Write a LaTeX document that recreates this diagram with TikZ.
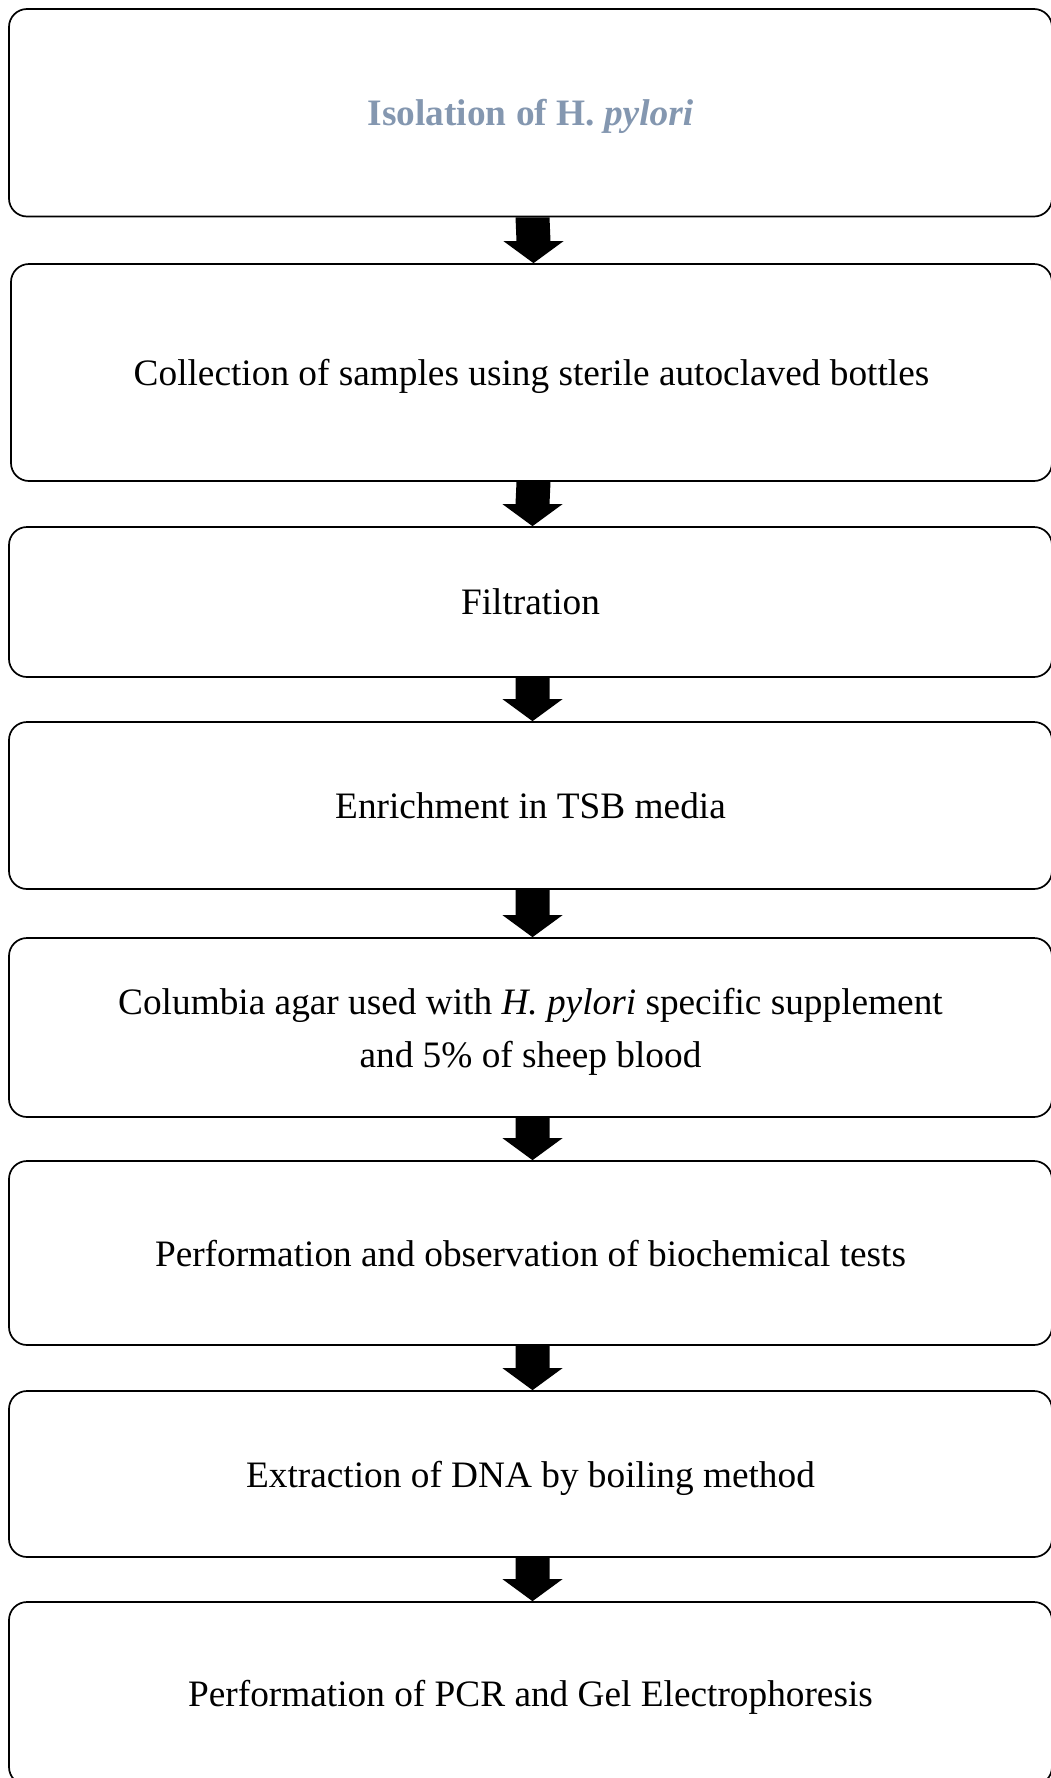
\documentclass[tikz,border=0pt]{standalone}
\usepackage{fontspec}
\setmainfont{Liberation Serif}
\usetikzlibrary{calc}
\definecolor{titleblue}{HTML}{8497B0}
\tikzset{
  stepbox/.style={draw=black, line width=1.7pt, rounded corners=18pt, minimum width=1043pt,
    inner sep=0pt, align=center, text depth=0pt, font=\fontsize{37.3}{53}\selectfont},
}
\newcommand\flowarrow[2]{%
  \fill[black] ($(#1.south)+(-15,0)$) -- ($(#2.north)+(-15,-22)$) -- ($(#2.north)+(-28,-22)$)
    -- ($(#2.north)+(2,0)$) -- ($(#2.north)+(32,-22)$) -- ($(#2.north)+(19,-22)$)
    -- ($(#1.south)+(19,0)$) -- cycle;}
\begin{document}
\begin{tikzpicture}[x=1pt,y=-1pt]
\useasboundingbox (0,0) rectangle (1051,1778);
\clip (0,0) rectangle (1051,1778);
\node[stepbox, minimum height=207.5pt] (b1) at (530.5,112.75)
  {\textcolor{titleblue}{\bfseries Isolation of H. \textit{pylori}}};
\node[stepbox, minimum height=217pt, minimum width=1041pt] (b2) at (531.5,372.5)
  {Collection of samples using sterile autoclaved bottles};
\node[stepbox, minimum height=150pt] (b3) at (530.5,602) {Filtration};
\node[stepbox, minimum height=167pt] (b4) at (530.5,805.5) {Enrichment in TSB media};
\node[stepbox, minimum height=179pt] (b5) at (530.5,1027.5)
  {Columbia agar used with \textit{H. pylori} specific supplement\\ and 5\% of sheep blood};
\node[stepbox, minimum height=184pt] (b6) at (530.5,1253) {Performation and observation of biochemical tests};
\node[stepbox, minimum height=166pt] (b7) at (530.5,1474) {Extraction of DNA by boiling method};
\node[stepbox, minimum height=183pt] (b8) at (530.5,1693.5) {Performation of PCR and Gel Electrophoresis};
\flowarrow{b1}{b2}
\flowarrow{b2}{b3}
\flowarrow{b3}{b4}
\flowarrow{b4}{b5}
\flowarrow{b5}{b6}
\flowarrow{b6}{b7}
\flowarrow{b7}{b8}
\end{tikzpicture}
\end{document}
